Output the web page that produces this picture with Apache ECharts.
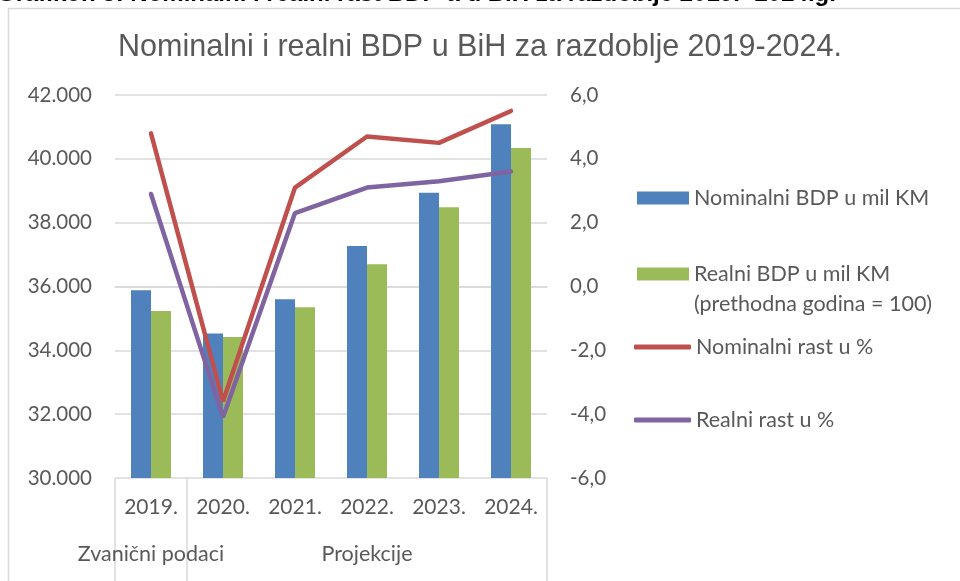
<!DOCTYPE html>
<html>
<head>
<meta charset="utf-8">
<script src="https://cdn.jsdelivr.net/npm/echarts@6/dist/echarts.min.js"></script>
<style>
  html, body { margin: 0; padding: 0; background: #fff; }
  #main { width: 960px; height: 581px; }
</style>
</head>
<body>
<div id="main"></div>
<script>
var years = ['2019.', '2020.', '2021.', '2022.', '2023.', '2024.'];
var nominalBdp = [35880, 34530, 35600, 37270, 38940, 41080];
var realBdp = [35230, 34420, 35350, 36700, 38480, 40340];
var nominalRast = [4.8, -3.6, 3.1, 4.7, 4.5, 5.5];
var realRast = [2.9, -4.1, 2.3, 3.1, 3.3, 3.6];
// grupe ispod godina: [od, do] u indeksima kategorija
var groups = [
  { name: 'Zvanični podaci', from: 0, to: 1 },
  { name: 'Projekcije', from: 1, to: 6 }
];

var grey = '#595959';
var font = 'Lato';

var chart = echarts.init(document.getElementById('main'));

function groupLabel(v) {
  for (var i = 0; i < groups.length; i++) {
    if (v > groups[i].from && v < groups[i].to) return groups[i].name;
  }
  return '';
}

var option = {
  backgroundColor: '#fff',
  animation: false,
  title: {
    text: 'Nominalni i realni BDP u BiH za razdoblje 2019-2024.',
    left: 'center',
    top: 27,
    textStyle: {
      fontFamily: '"Liberation Sans Narrow", "Liberation Sans", sans-serif',
      fontSize: 30.5,
      fontWeight: 'normal',
      color: grey
    }
  },
  graphic: [
    {
      type: 'rect',
      shape: { x: 8.5, y: 8.5, width: 1000, height: 700 },
      style: { fill: 'none', stroke: '#d9d9d9', lineWidth: 1.5 },
      silent: true
    },
    {
      type: 'text',
      x: -3,
      y: 6,
      style: {
        text: 'Grafikon 5: Nominalni i realni rast BDP-a u BiH za razdoblje 2019.- 2024.g.',
        font: 'bold 24px "Liberation Sans", Arial, sans-serif',
        fill: '#000',
        textVerticalAlign: 'bottom'
      }
    }
  ],
  legend: [
    {
      left: 637, top: 187, padding: 0,
      itemWidth: 52, itemHeight: 13, icon: 'rect',
      textStyle: { fontFamily: font, fontSize: 21.5, color: grey },
      data: ['Nominalni BDP u mil KM']
    },
    {
      left: 637, top: 229, padding: 0,
      itemWidth: 52, itemHeight: 13, icon: 'rect',
      // prazan prvi red da ikona stoji uz prvi red teksta
      formatter: function (name) { return ' \n' + name + '\n(prethodna godina = 100)'; },
      textStyle: { fontFamily: font, fontSize: 21.5, color: grey, lineHeight: 30, align: 'left' },
      data: ['Realni BDP u mil KM']
    },
    {
      left: 634, top: 336, padding: 0,
      itemWidth: 57, itemHeight: 5, icon: 'roundRect',
      textStyle: { fontFamily: font, fontSize: 21.5, color: grey },
      data: ['Nominalni rast u %']
    },
    {
      left: 634, top: 409, padding: 0,
      itemWidth: 57, itemHeight: 5, icon: 'roundRect',
      textStyle: { fontFamily: font, fontSize: 21.5, color: grey },
      data: ['Realni rast u %']
    }
  ],
  grid: { left: 115, right: 413, top: 95, bottom: 103 },
  xAxis: [
    {
      type: 'category',
      data: years,
      axisLine: { lineStyle: { color: '#d9d9d9', width: 1.5 } },
      axisTick: { show: false },
      axisLabel: { fontFamily: font, fontSize: 21, color: grey, margin: 19 }
    },
    {
      type: 'value',
      position: 'bottom',
      min: 0,
      max: 6,
      axisLine: { show: false },
      splitLine: { show: false },
      axisTick: {
        show: true,
        customValues: [0, 1, 6],
        length: 110,
        lineStyle: { color: '#d9d9d9', width: 1.5 }
      },
      axisLabel: {
        customValues: [0.5, 3.5],
        formatter: groupLabel,
        fontFamily: font, fontSize: 21.5, color: grey, margin: 65
      }
    }
  ],
  yAxis: [
    {
      type: 'value',
      min: 30000,
      max: 42000,
      interval: 2000,
      axisLine: { show: false },
      axisTick: { show: false },
      splitLine: { lineStyle: { color: '#d9d9d9', width: 1.5 } },
      axisLabel: {
        fontFamily: font, fontSize: 20.5, color: grey, margin: 23,
        formatter: function (v) { return (v / 1000).toFixed(3); }
      }
    },
    {
      type: 'value',
      min: -6,
      max: 6,
      interval: 2,
      axisLine: { show: false },
      axisTick: { show: false },
      splitLine: { show: false },
      axisLabel: {
        fontFamily: font, fontSize: 20.5, color: grey, margin: 23,
        formatter: function (v) { return v.toFixed(1).replace('.', ','); }
      }
    }
  ],
  series: [
    {
      name: 'Nominalni BDP u mil KM',
      type: 'bar',
      data: nominalBdp,
      barWidth: 20,
      barGap: '0%',
      itemStyle: { color: '#4f81bd' }
    },
    {
      name: 'Realni BDP u mil KM',
      type: 'bar',
      data: realBdp,
      barWidth: 20,
      itemStyle: { color: '#9bbb59' }
    },
    {
      name: 'Nominalni rast u %',
      type: 'line',
      yAxisIndex: 1,
      data: nominalRast,
      symbol: 'none',
      itemStyle: { color: '#c0504d' },
      lineStyle: { color: '#c0504d', width: 4.5, cap: 'round' }
    },
    {
      name: 'Realni rast u %',
      type: 'line',
      yAxisIndex: 1,
      data: realRast,
      symbol: 'none',
      itemStyle: { color: '#8064a2' },
      lineStyle: { color: '#8064a2', width: 4.5, cap: 'round' }
    }
  ]
};

chart.setOption(option);
</script>
</body>
</html>
